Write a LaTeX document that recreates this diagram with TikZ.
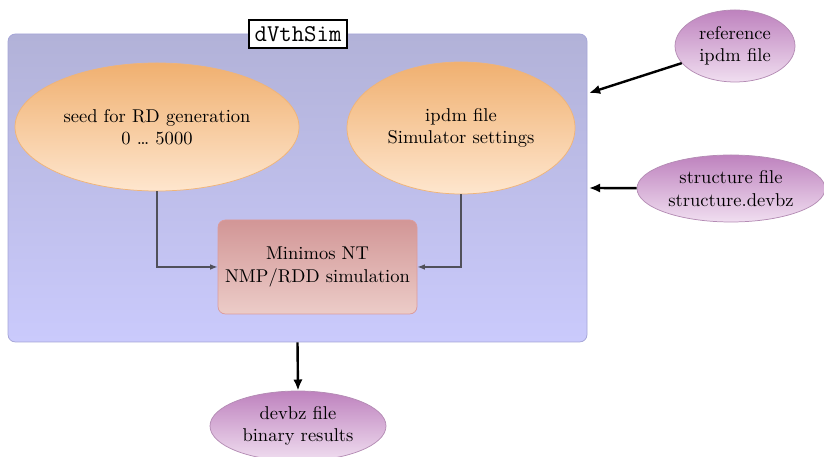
\documentclass[tikz,border=0pt]{standalone}
\usetikzlibrary{arrows.meta,shapes.geometric}
\definecolor{boxtop}{RGB}{178,178,216}
\definecolor{boxbot}{RGB}{202,202,252}
\definecolor{boxborder}{RGB}{165,165,215}
\definecolor{ortop}{RGB}{240,176,112}
\definecolor{orbot}{RGB}{254,230,206}
\definecolor{orborder}{RGB}{240,180,120}
\definecolor{rdtop}{RGB}{210,150,150}
\definecolor{rdbot}{RGB}{236,204,200}
\definecolor{rdborder}{RGB}{220,155,155}
\definecolor{pptop}{RGB}{190,130,190}
\definecolor{ppbot}{RGB}{240,222,240}
\definecolor{ppborder}{RGB}{180,140,180}
\definecolor{graycon}{RGB}{80,80,90}
\tikzset{
  orell/.style={ellipse, inner sep=0pt, draw=orborder, top color=ortop, bottom color=orbot, align=center},
  ppell/.style={ellipse, inner sep=0pt, draw=ppborder, top color=pptop, bottom color=ppbot, align=center},
  simbox/.style={rectangle, rounded corners=4pt, inner sep=0pt, draw=rdborder, top color=rdtop, bottom color=rdbot, align=center},
  frame/.style={rectangle, rounded corners=4pt, inner sep=0pt, draw=boxborder, top color=boxtop, bottom color=boxbot},
  titlebox/.style={rectangle, draw=black, fill=white, line width=0.7pt, inner xsep=3pt, minimum height={28*0.54pt}, font=\fontsize{13}{15}\selectfont\ttfamily},
  thinarrow/.style={draw=graycon, line width=0.7pt, -{Latex[length=4pt,width=3pt]}},
  thickarrow/.style={draw=black, line width=1.3pt, -{Latex[length=6pt,width=5pt]}}
}
\begin{document}
\begin{tikzpicture}[x=0.54pt,y=-0.54pt]
\useasboundingbox (0,0) rectangle (824,457);
\node[frame, minimum width={579*0.54pt}, minimum height={308*0.54pt}] (frame) at (297.5,188) {};
\node[titlebox] (title) at (298,34) {dVthSim};
\node[orell, minimum width={284*0.54pt}, minimum height={128*0.54pt}] (seed) at (157,127) {seed for RD generation\\0 \dots\ 5000};
\node[orell, minimum width={228*0.54pt}, minimum height={132*0.54pt}] (ipdm) at (461,128) {ipdm file\\Simulator settings};
\node[simbox, minimum width={199*0.54pt}, minimum height={94*0.54pt}] (mnt) at (317.5,267) {Minimos NT\\NMP/RDD simulation};
\node[ppell, minimum width={120*0.54pt}, minimum height={72*0.54pt}] (ref) at (735,46) {reference\\ipdm file};
\node[ppell, minimum width={188*0.54pt}, minimum height={67*0.54pt}] (struct) at (731,188.5) {structure file\\structure.devbz};
\node[ppell, minimum width={176*0.54pt}, minimum height={70*0.54pt}] (devbz) at (298,426) {devbz file\\binary results};
\coordinate (inref) at (589,93);
\coordinate (instruct) at (589,188);
\draw[thinarrow] (seed.south) |- (mnt.west);
\draw[thinarrow] (ipdm.south) |- (mnt.east);
\draw[thickarrow] (ref) -- (inref);
\draw[thickarrow] (struct) -- (instruct);
\draw[thickarrow] (frame.south) -- (devbz.north);
\end{tikzpicture}
\end{document}
